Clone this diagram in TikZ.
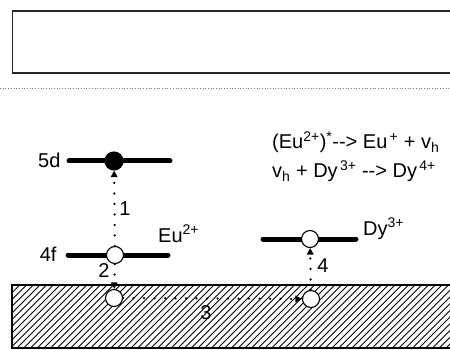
\documentclass[tikz,border=0pt]{standalone}
\usepackage{fontspec}
\setmainfont{Liberation Sans}
\usetikzlibrary{arrows.meta}
\tikzset{
	level/.style={line width=5pt,line cap=round},
	state/.style={circle,draw,line width=1.1pt,fill=white,minimum size=17pt,inner sep=0pt},
	hop/.style={line width=2.5pt,line cap=round,dash pattern=on 0pt off 10.5pt,-{Triangle[length=6.5pt,width=6.5pt]}},
	hatch/.style={line width=0.9pt},
	lbl/.style={inner sep=1pt}
}
\begin{document}
\begin{tikzpicture}[x=1pt,y=-1pt,font=\fontsize{20}{24}\selectfont]
	\useasboundingbox (0,0) rectangle (450,350);
	% empty frame and separator
	\draw[line width=1.4pt,black!85] (455,11)--(12.5,11)--(12.5,73)--(455,73);
	\draw[dotted,gray,line width=0.7pt] (0,88)--(450,88);
	% valence band
	\begin{scope}
		\clip (12,285) rectangle (455,348);
		\foreach \i in {0,...,80}
			\draw[hatch] ({\i*6.7-70},348) -- ++(63,-63);
	\end{scope}
	\draw[line width=1.3pt] (455,285)--(12,285)--(12,348)--(455,348);
	% levels
	\draw[level] (69,161)--(170,161);
	\draw[level] (68,255)--(168,255);
	\draw[level] (263,239)--(356,239);
	\node[state,fill=black,minimum size=18pt] (ex) at (114,161) {};
	\node[state] (gr) at (115,255) {};
	\node[state] (dy) at (310,239) {};
	\node[state] (hl) at (114,298) {};
	\node[state] (hr) at (311,299) {};
	\node[anchor=east] (l5d) at (64,160) {5d};
	\node[anchor=east] (l4f) at (60,254) {4f};
	\node[anchor=base west,inner sep=0pt] (leu) at (158,242) {Eu\textsuperscript{2+}};
	\node[anchor=base west,inner sep=0pt] (ldy) at (363,235) {Dy\textsuperscript{3+}};
	% transitions
	\draw[hop] (gr)--(ex);
	\draw[hop] (gr)--(hl);
	\draw[hop] (hl)--(hr);
	\draw[hop] (hr)--(dy);
	\node[lbl] (n1) at (125,209) {1};
	\node[lbl] (n2) at (104,271) {2};
	\node[lbl] (n3) at (206,313) {3};
	\node[lbl] (n4) at (323,266) {4};
	% reactions
	\node[anchor=base west,inner sep=0pt] (eqa) at (272,149)
		{(Eu\textsuperscript{2+})\textsuperscript{*}-{}-> Eu\textsuperscript{\,+} + v\textsubscript{h}};
	\node[anchor=base west,inner sep=0pt] (eqb) at (272,178)
		{v\textsubscript{h} + Dy\textsuperscript{\,3+} -{}-> Dy\textsuperscript{\,4+}};
\end{tikzpicture}
\end{document}
